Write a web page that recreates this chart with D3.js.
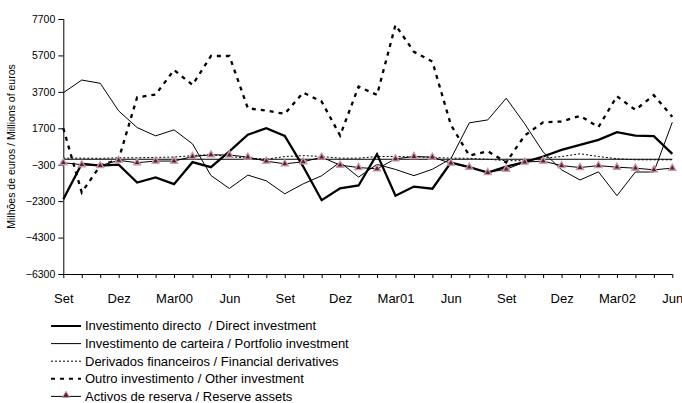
<!DOCTYPE html>
<html>
<head>
<meta charset="utf-8">
<script src="https://cdn.jsdelivr.net/npm/d3@7"></script>
<style>
  body { margin: 0; background: #fff; }
  svg { font-family: "Liberation Sans Narrow", "Arial Narrow", "Liberation Sans", sans-serif; }
</style>
</head>
<body>
<div id="chart"></div>
<script>
// Balance of payments - financial account, monthly, Sep 1999 .. Jun 2002

const tickLabels = ['Set', 'Dez', 'Mar00', 'Jun', 'Set', 'Dez', 'Mar01', 'Jun', 'Set', 'Dez', 'Mar02', 'Jun']
const yTicks = [-6300, -4300, -2300, -300, 1700, 3700, 5700, 7700]

const direct = [-2200, -250, -350, -300, -1280, -1000, -1370, -160, -435, 430, 1350, 1700, 1280, -400, -2250, -1600,
  -1440, 280, -2000, -1500, -1620, -180, -435, -727, -400, -160, 150, 516, 790, 1064, 1485, 1300, 1267, 297]
const portfolio = [3650, 4350, 4170, 2655, 1740, 1284, 1613, 845, -892, -1604, -870, -1184, -1897, -1349, -906, -160,
  -981, -280, -560, -900, -550, 30, 2000, 2160, 3350, 1950, 400, -580, -1140, -690, -2000, -700, -700, 2030]
const derivatives = [60, 60, 50, 80, 80, 100, 120, 200, 250, 150, 60, 0, 150, 200, 150, 60,
  60, 150, 150, 130, 100, 60, 50, 0, -80, -80, 60, 150, 300, 150, 30, -30, -30, -30]
const other = [1700, -1825, -345, 0, 3400, 3550, 4900, 4080, 5670, 5670, 2800, 2670, 2490, 3660, 3165, 1300,
  3990, 3530, 7370, 5900, 5360, 1890, 200, 440, -170, 1300, 2030, 2070, 2380, 1770, 3460, 2710, 3520, 2330]
const reserve = [-190, -300, -350, -60, -190, -100, -100, 150, 242, 233, 115, -105, -250, -140, 115, -325,
  -455, -526, 22, 150, 115, -214, -435, -727, -545, -160, -100, -350, -455, -350, -435, -490, -580, -490]

const width = 682
const height = 403

const svg = d3.select('#chart')
  .append('svg')
  .attr('width', width)
  .attr('height', height)

const n = direct.length
const x = d3.scaleLinear().domain([0, n - 1]).range([63.3, 672.3])
const y = d3.scaleLinear().domain([-6300, 7700]).range([274, 19])

// Axes
svg.append('g')
  .attr('transform', `translate(0, ${y(-6300)})`)
  .call(d3.axisBottom(x)
    .tickValues(d3.range(n))
    .tickSize(4)
    .tickPadding(16)
    .tickFormat(i => i % 3 === 0 ? tickLabels[i / 3] : ''))
  .call(g => g.select('.domain').attr('d', `M${x(0)},0.5H${x(n - 1)}`))
  .call(g => g.selectAll('text').attr('font-size', 13).attr('fill', '#000'))

svg.append('g')
  .attr('transform', `translate(${x(0)}, 0)`)
  .call(d3.axisLeft(y).tickValues(yTicks).tickSize(5).tickPadding(3).tickFormat(d3.format('d')))
  .call(g => g.select('.domain').attr('d', `M0.5,${y(7700)}V${y(-6300)}`))
  .call(g => g.selectAll('text').attr('font-size', 10.5).attr('fill', '#000'))

svg.append('text')
  .attr('transform', `translate(15, ${y(700)}) rotate(-90)`)
  .attr('text-anchor', 'middle')
  .attr('font-size', 10.5)
  .text('Milhões de euros / Millions of euros')

// Zero line
svg.append('line')
  .attr('x1', x(0)).attr('x2', x(n - 1))
  .attr('y1', y(0)).attr('y2', y(0))
  .attr('stroke', '#000')
  .attr('stroke-width', 1.2)

const series = [
  { name: 'Investimento directo  / Direct investment', values: direct, width: 2.3, dash: null },
  { name: 'Investimento de carteira / Portfolio investment', values: portfolio, width: 1, dash: null },
  { name: 'Derivados financeiros / Financial derivatives', values: derivatives, width: 1, dash: '2,2' },
  { name: 'Outro investimento / Other investment', values: other, width: 2.3, dash: '4,5' },
  { name: 'Activos de reserva / Reserve assets', values: reserve, width: 1, dash: null, marker: true }
]

const line = d3.line()
  .x((d, i) => x(i))
  .y(d => y(d))

const triangle = d3.symbol().type(d3.symbolTriangle).size(22)

series.forEach(s => {
  svg.append('path')
    .datum(s.values)
    .attr('fill', 'none')
    .attr('stroke', '#000')
    .attr('stroke-width', s.width)
    .attr('stroke-dasharray', s.dash)
    .attr('stroke-linejoin', 'miter')
    .attr('d', line)

  if (s.marker) {
    svg.append('g').selectAll('path')
      .data(s.values)
      .enter().append('path')
      .attr('transform', (d, i) => `translate(${x(i)}, ${y(d)})`)
      .attr('d', triangle)
      .attr('fill', '#5a1f3a')
      .attr('stroke', '#c99aae')
      .attr('stroke-width', 1.3)
  }
})

// Legend
const legend = svg.append('g')
  .selectAll('g')
  .data(series)
  .enter().append('g')
  .attr('transform', (d, i) => `translate(0, ${326 + i * 17.6})`)

legend.append('line')
  .attr('x1', 51).attr('x2', 81)
  .attr('y1', 0).attr('y2', 0)
  .attr('stroke', '#000')
  .attr('stroke-width', d => d.width === 1 ? 1 : 2)
  .attr('stroke-dasharray', d => d.dash)

legend.filter(d => d.marker).append('path')
  .attr('transform', 'translate(66, -1)')
  .attr('d', triangle)
  .attr('fill', '#5a1f3a')
  .attr('stroke', '#c99aae')
  .attr('stroke-width', 1)

legend.append('text')
  .attr('x', 85)
  .attr('y', 4.3)
  .attr('font-size', 13)
  .style('white-space', 'pre')
  .text(d => d.name)
</script>
</body>
</html>
